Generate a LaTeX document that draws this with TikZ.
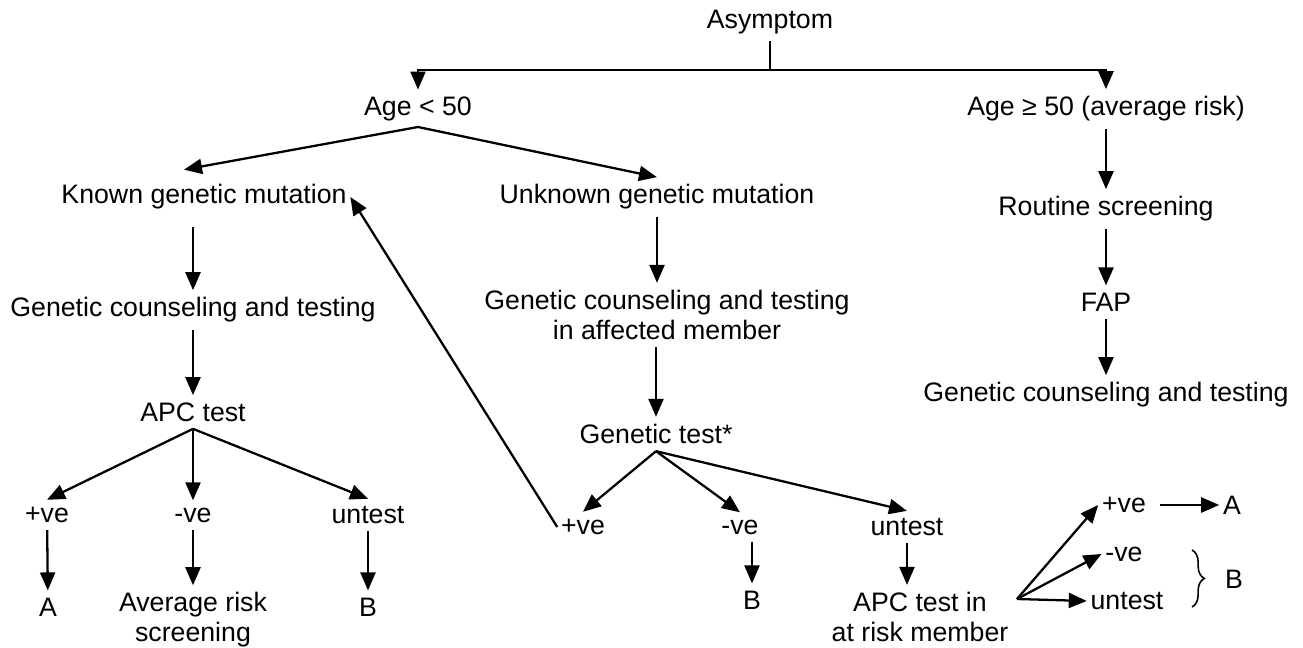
\documentclass[tikz,border=0pt]{standalone}
\usepackage{fontspec}
\setmainfont{Liberation Sans}
\usetikzlibrary{arrows.meta,decorations.pathreplacing}

\begin{document}
\begin{tikzpicture}[x=0.02cm, y=-0.02cm,
  every node/.style={inner xsep=2pt, inner ysep=4pt, font=\fontsize{15.2}{17}\selectfont},
  two/.style={align=center},
  ln/.style={line width=1.3pt},
  arr/.style={line width=1.3pt, -{Triangle[length=0.36cm,width=0.3cm]}}]
\useasboundingbox (0,0) rectangle (1303,648);
% top level
\node (asym) at (770,22) {Asymptom};
\node (agelo) at (418,109) {Age < 50};
\node (agehi) at (1106,109) {Age ≥ 50 (average risk)};
\coordinate (top) at (770,70);
\draw[ln] (asym) -- (top);
\draw[arr] (top) -| (agelo);
\draw[arr] (top) -| (agehi);
% age < 50
\coordinate (lsplit) at (418,127);
\node (kgm) at (204,197) {Known genetic mutation};
\node (ugm) at (657,197) {Unknown genetic mutation};
\draw[arr] (lsplit) -- ([xshift=-0.4cm,yshift=0.15cm]kgm.north);
\draw[arr] (lsplit) -- (ugm.north);
% known mutation
\node (gcl) at (193,310) {Genetic counseling and testing};
\node (apcl) at (193,412) {APC test};
\node (lpos) at (47,515) {+ve};
\node (lneg) at (193,515) {-ve};
\node (lunt) at (368,515) {untest};
\node (la) at (48,607) {A};
\node[two] (lavg) at (193,620) {Average risk\\screening};
\node (lb) at (368,607) {B};
\draw[arr, shorten <=0.2cm] (kgm.south -| gcl.north) -- (gcl.north);
\draw[arr] (gcl) -- (apcl);
\draw[arr] (apcl.south) -- (lpos.north);
\draw[arr] (apcl.south) -- (lneg.north);
\draw[arr] (apcl.south) -- (lunt.north);
\draw[arr] (lpos) -- (la);
\draw[arr] (lneg) -- (lavg);
\draw[arr] (lunt) -- (lb);
% unknown mutation
\node[two] (gcm) at (667,315) {Genetic counseling and testing\\in affected member};
\node (gtest) at (656,434) {Genetic test*};
\node (mpos) at (583,527) {+ve};
\node (mneg) at (740,527) {-ve};
\node (munt) at (907,527) {untest};
\node (mb) at (752,600) {B};
\node[two] (apcm) at (920,617) {APC test in\\at risk member};
\draw[arr] (ugm) -- (ugm |- gcm.north);
\draw[arr] (gtest |- gcm.south) -- (gtest);
\draw[arr] (gtest.south) -- (mpos.north);
\draw[arr] (gtest.south) -- (mneg.north);
\draw[arr] (gtest.south) -- (munt.north);
\draw[arr] (mpos.west) -- (kgm.east);
\draw[arr] (mneg.south -| mb) -- (mb);
\draw[arr] (munt) -- (munt |- apcm.north);
% at risk member
\coordinate (rsplit) at (1017,599);
\node (rpos) at (1124,505) {+ve};
\node (ra) at (1232,505) {A};
\node (rneg) at (1124,554) {-ve};
\node (runt) at (1127,601) {untest};
\node (rb) at (1234,579) {B};
\draw[arr] (rsplit) -- (rpos.west);
\draw[arr] (rsplit) -- (rneg.west);
\draw[arr] (rsplit) -- (runt.west);
\draw[arr, shorten <=0.2cm] (rpos) -- (ra);
\draw[decorate, decoration={brace, amplitude=7pt}, line width=0.9pt] (1192,550) -- (1192,607);
% age >= 50
\node (rs) at (1106,209) {Routine screening};
\node (fap) at (1106,302) {FAP};
\node (gcr) at (1106,395) {Genetic counseling and testing};
\draw[arr] (agehi) -- (rs);
\draw[arr] (rs) -- (fap);
\draw[arr] (fap) -- (gcr);
\end{tikzpicture}
\end{document}
